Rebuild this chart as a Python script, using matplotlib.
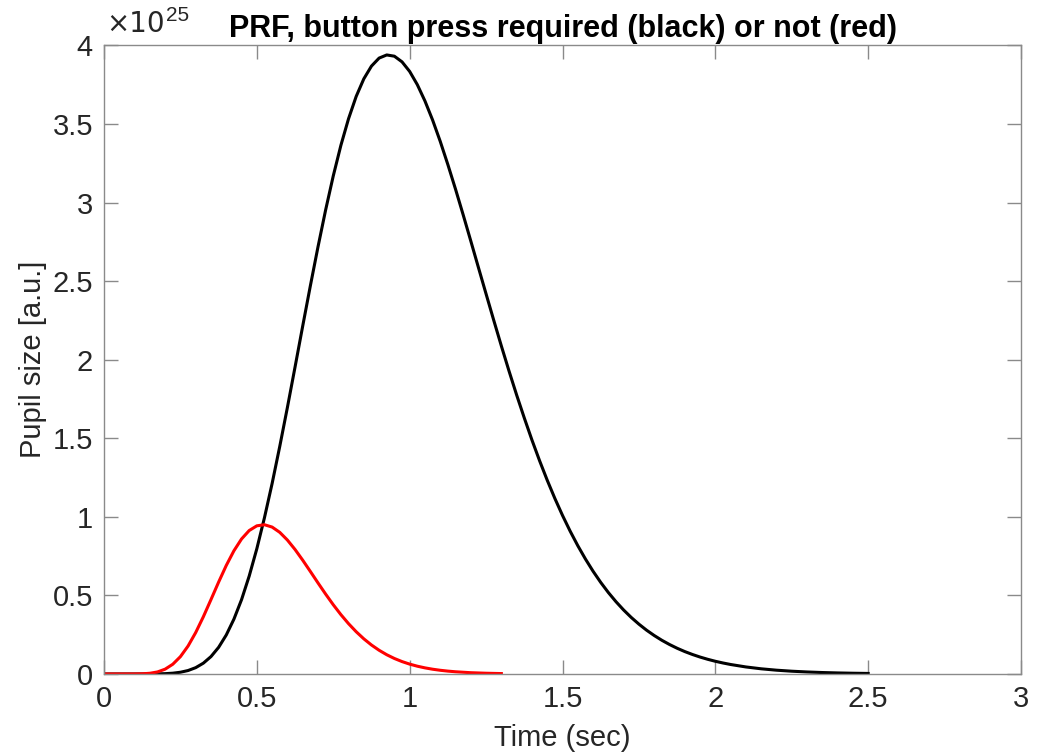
import matplotlib
matplotlib.use("Agg")
import matplotlib.pyplot as plt

# pupil response functions, amplitudes in units of 1e25
t_press = [0.0, 0.05, 0.10, 0.125, 0.15, 0.175, 0.20, 0.225, 0.25, 0.275,
           0.30, 0.325, 0.35, 0.375, 0.40, 0.425, 0.45, 0.475, 0.50, 0.525,
           0.55, 0.575, 0.60, 0.625, 0.65, 0.675, 0.70, 0.725, 0.75, 0.775,
           0.80, 0.825, 0.85, 0.875, 0.90, 0.925, 0.95, 0.975, 1.00, 1.025,
           1.05, 1.075, 1.10, 1.125, 1.15, 1.175, 1.20, 1.225, 1.25, 1.275,
           1.30, 1.325, 1.35, 1.375, 1.40, 1.425, 1.45, 1.475, 1.50, 1.525,
           1.55, 1.575, 1.60, 1.625, 1.65, 1.675, 1.70, 1.725, 1.75, 1.775,
           1.80, 1.825, 1.85, 1.875, 1.90, 1.925, 1.95, 1.975, 2.00, 2.025,
           2.05, 2.10, 2.15, 2.20, 2.25, 2.30, 2.35, 2.40, 2.45, 2.50]
prf_press = [0.0, 0.0, 0.0, 0.00004, 0.0002, 0.0007, 0.0020, 0.0050, 0.0110,
             0.0219, 0.0402, 0.0688, 0.1107, 0.1695, 0.2481, 0.3487, 0.4729,
             0.6229, 0.797, 0.9949, 1.212, 1.448, 1.696, 1.953, 2.213, 2.469,
             2.717, 2.952, 3.169, 3.364, 3.533, 3.675, 3.787, 3.868, 3.919,
             3.939, 3.931, 3.895, 3.834, 3.750, 3.646, 3.525, 3.389, 3.241,
             3.085, 2.922, 2.755, 2.586, 2.418, 2.251, 2.087, 1.928, 1.775,
             1.629, 1.489, 1.357, 1.233, 1.117, 1.009, 0.9089, 0.8164, 0.7316,
             0.6537, 0.5828, 0.5182, 0.4598, 0.4070, 0.3595, 0.3170, 0.2787,
             0.2448, 0.2144, 0.1876, 0.1637, 0.1426, 0.1241, 0.1077, 0.0934,
             0.0808, 0.0699, 0.0603, 0.0447, 0.0329, 0.0241, 0.0176, 0.0128,
             0.0092, 0.0066, 0.0047, 0.0034]

t_nopress = [0.0, 0.05, 0.10, 0.125, 0.15, 0.175, 0.20, 0.225, 0.25, 0.275,
             0.30, 0.325, 0.35, 0.375, 0.40, 0.425, 0.45, 0.475, 0.50, 0.525,
             0.55, 0.575, 0.60, 0.625, 0.65, 0.675, 0.70, 0.725, 0.75, 0.775,
             0.80, 0.825, 0.85, 0.875, 0.90, 0.925, 0.95, 0.975, 1.00, 1.025,
             1.05, 1.075, 1.10, 1.125, 1.15, 1.20, 1.25, 1.30]
prf_nopress = [0.0, 0.0, 0.0002, 0.0011, 0.0044, 0.0129, 0.0306, 0.0619,
               0.1103, 0.1778, 0.2636, 0.3640, 0.4734, 0.5846, 0.6905, 0.7838,
               0.8591, 0.9127, 0.9427, 0.9496, 0.9348, 0.9012, 0.8522, 0.7921,
               0.7243, 0.6526, 0.5797, 0.5085, 0.4406, 0.3776, 0.3202, 0.2689,
               0.2236, 0.1844, 0.1509, 0.1224, 0.0986, 0.0789, 0.0627, 0.0495,
               0.0389, 0.0303, 0.0235, 0.0182, 0.0140, 0.0081, 0.0047, 0.0026]

xticks = [0, 0.5, 1, 1.5, 2, 2.5, 3]
yticks = [0, 0.5, 1, 1.5, 2, 2.5, 3, 3.5, 4]

plt.rcParams["font.family"] = ["Liberation Sans", "DejaVu Sans"]

axis_col = "#8a8a8a"
text_col = "#262626"

fig = plt.figure(figsize=(10.41, 7.56), dpi=100)
ax = fig.add_axes([0.0999, 0.1085, 0.8809, 0.8315])

ax.plot(t_press, prf_press, color="black", lw=2.2, solid_joinstyle="round")
ax.plot(t_nopress, prf_nopress, color="red", lw=2.2, solid_joinstyle="round")

ax.set_xlim(0, 3)
ax.set_ylim(0, 4)
ax.set_xticks(xticks)
ax.set_yticks(yticks)
ax.set_xticklabels(["%g" % v for v in xticks])
ax.set_yticklabels(["%g" % v for v in yticks])

for s in ax.spines.values():
    s.set_color(axis_col)
    s.set_linewidth(1.0)
ax.tick_params(direction="in", length=10, width=1.0, color=axis_col,
               labelsize=21, labelcolor=text_col, top=True, right=True, pad=8)

ax.set_xlabel("Time (sec)", fontsize=21, color=text_col, labelpad=8)
ax.set_ylabel("Pupil size [a.u.]", fontsize=21, color=text_col, labelpad=4)
ax.set_title("PRF, button press required (black) or not (red)",
             fontsize=22, fontweight="bold", color="black", pad=6)

# exponent of the y axis, drawn as "x10" plus a raised "25"
base = ax.text(0.002, 1.012, "\u00d710", transform=ax.transAxes,
               fontsize=20, color=text_col, ha="left", va="bottom",
               family="DejaVu Sans")
ax.annotate("25", xy=(1, 1), xycoords=base, xytext=(1, -4),
            textcoords="offset points", fontsize=15, color=text_col,
            ha="left", va="center")

fig.savefig("out.png", dpi=100)
